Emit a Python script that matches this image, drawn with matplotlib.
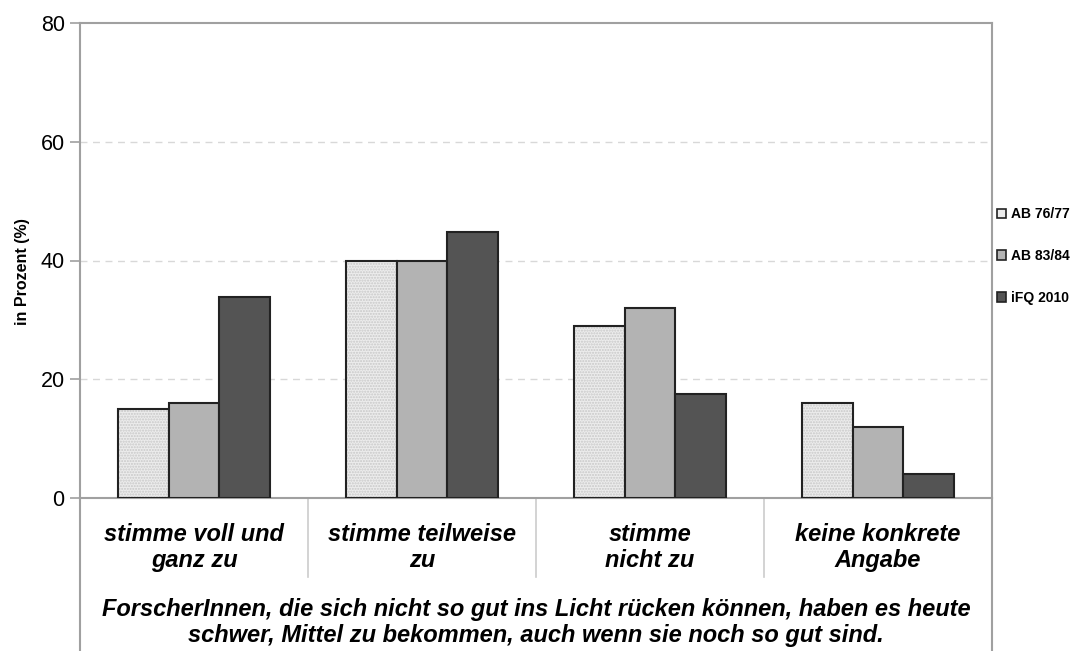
import numpy as np
import matplotlib
matplotlib.use("Agg")
import matplotlib.pyplot as plt
from matplotlib.patches import Patch

plt.rcParams['font.family'] = ['Liberation Sans', 'DejaVu Sans']

# %% data
categories = ["stimme voll und\nganz zu", "stimme teilweise\nzu",
              "stimme\nnicht zu", "keine konkrete\nAngabe"]
series = ["AB 76/77", "AB 83/84", "iFQ 2010"]
ab_7677 = [15, 40, 29, 16]
ab_8384 = [16, 40, 32, 12]
ifq_2010 = [33.8, 44.8, 17.6, 4]
yticks = [0, 20, 40, 60, 80]
caption = ("ForscherInnen, die sich nicht so gut ins Licht rücken können, haben es heute\n"
           "schwer, Mittel zu bekommen, auch wenn sie noch so gut sind.")

colors = ["#ececec", "#b3b3b3", "#545454"]
frame_col = "#a0a0a0"

# %% figure
fig = plt.figure(figsize=(10.76, 6.51), dpi=100)
ax = fig.add_axes([80/1076, 1-498/651, (992-80)/1076, (498-23)/651])

x = np.arange(len(categories))
w = 0.222
values = [ab_7677, ab_8384, ifq_2010]
for i, (vals, col) in enumerate(zip(values, colors)):
    pos = x + (i-1)*w
    if i == 0:
        # dotted texture for the light series
        ax.bar(pos, vals, w, color=col, edgecolor="#c8c8c8", hatch="......",
               linewidth=0, zorder=2)
        ax.bar(pos, vals, w, fill=False, edgecolor="#222222", linewidth=1.5, zorder=3)
    else:
        ax.bar(pos, vals, w, color=col, edgecolor="#222222", linewidth=1.5, zorder=3)

ax.set_xlim(-0.5, len(categories)-0.5)
ax.set_ylim(0, 80)
ax.set_yticks(yticks)
ax.tick_params(axis='y', labelsize=15.5, length=7, color=frame_col, width=1.2, pad=4)
ax.set_xticks([])
for yv in yticks[1:-1]:
    ax.axhline(yv, color="#d8d8d8", linestyle=(0, (5, 4)), linewidth=1, zorder=1)

for side in ["left", "right", "top", "bottom"]:
    ax.spines[side].set_color(frame_col)
    ax.spines[side].set_linewidth(1.5)

ax.set_ylabel("in Prozent (%)", fontsize=11.5, fontweight="bold")
ax.yaxis.set_label_coords(-0.055, 0.476)

# outer frame continuing below the plot area
ax.plot([0, 0], [0, -0.34], transform=ax.transAxes, color=frame_col, lw=1.5, clip_on=False)
ax.plot([1, 1], [0, -0.34], transform=ax.transAxes, color=frame_col, lw=1.5, clip_on=False)
xt = ax.get_xaxis_transform()
for b in x[:-1] + 0.5:
    ax.plot([b, b], [0, -0.166], transform=xt, color="#cccccc", lw=1.2, clip_on=False)

for xi, lab in zip(x, categories):
    ax.text(xi, -0.104, lab, transform=xt, ha="center", va="center", fontsize=17,
            fontweight="bold", fontstyle="italic", linespacing=1.2)

ax.text(0.5, -0.262, caption, transform=ax.transAxes, ha="center", va="center",
        fontsize=17, fontweight="bold", fontstyle="italic", linespacing=1.15)

handles = [Patch(facecolor=c, edgecolor="#222222", linewidth=1.2) for c in colors]
fig.legend(handles, series, loc="center left", bbox_to_anchor=(0.916, 1-256/651),
           frameon=False, prop={"size": 10, "weight": "bold"}, handlelength=0.7,
           handleheight=0.7, handletextpad=0.3, labelspacing=2.0, borderpad=0.3)

fig.savefig("out.png", dpi=100)
